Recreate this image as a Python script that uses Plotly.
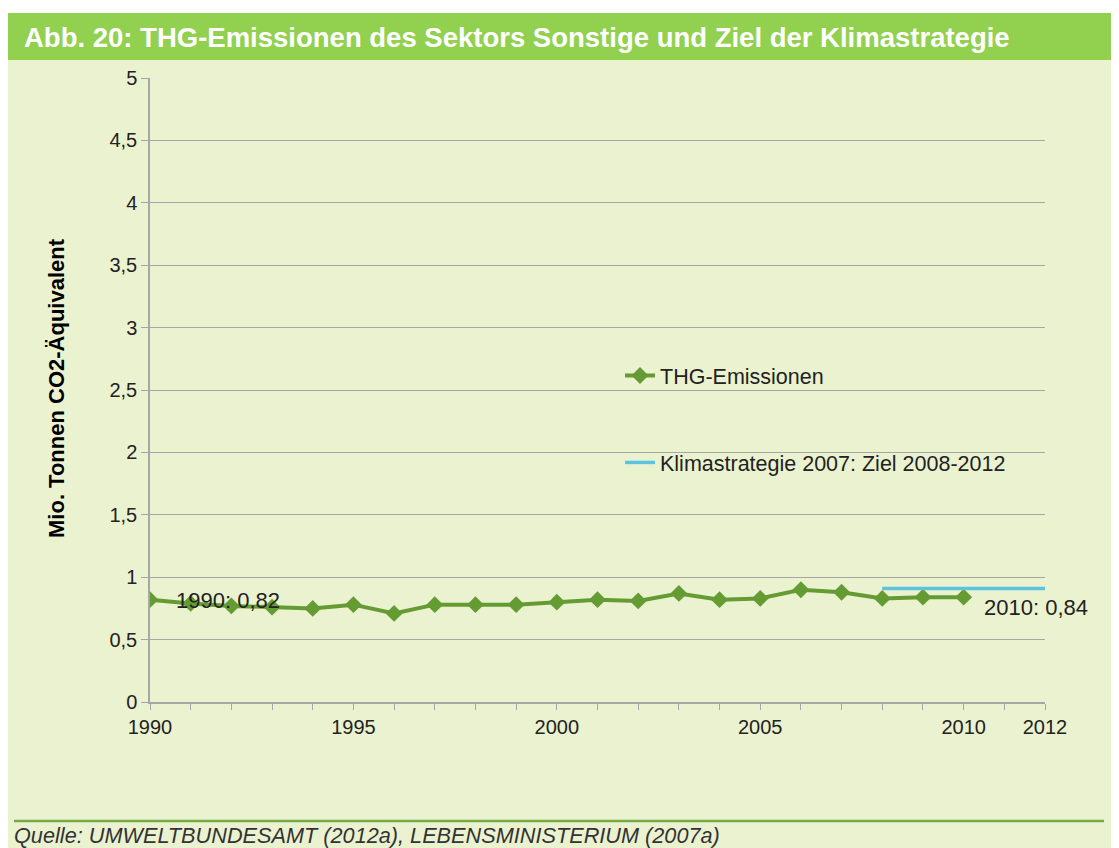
import plotly.graph_objects as go

years = list(range(1990, 2011))
emissions = [0.82, 0.79, 0.77, 0.76, 0.75, 0.78, 0.71, 0.78, 0.78, 0.78, 0.80,
             0.82, 0.81, 0.87, 0.82, 0.83, 0.90, 0.88, 0.83, 0.84, 0.84]
target_years = [2008, 2012]
target_values = [0.91, 0.91]
x_tick_vals = [1990, 1995, 2000, 2005, 2010, 2012]
y_tick_vals = [0, 0.5, 1, 1.5, 2, 2.5, 3, 3.5, 4, 4.5, 5]
y_tick_text = ["0", "0,5", "1", "1,5", "2", "2,5", "3", "3,5", "4", "4,5", "5"]

OFF = 8  # browser body margin
W, H = 1119 - OFF, 848 - OFF
# plot area in page pixels
PL, PR, PT, PB = 150, 1045, 78, 702
L, R, T, B = PL - OFF, PR - OFF, PT - OFF, PB - OFF


def px(xp):
    return (xp - PL) / (PR - PL)


def py(yp):
    return (PB - yp) / (PB - PT)


FONT = "Liberation Sans, Arial, sans-serif"

fig = go.Figure()
fig.add_trace(go.Scatter(
    x=years, y=emissions, mode="lines+markers", name="THG-Emissionen",
    legendgroup="a",
    line=dict(color="#659B33", width=4),
    marker=dict(symbol="diamond", size=13, color="#659B33"),
))
fig.add_trace(go.Scatter(
    x=target_years, y=target_values, mode="lines",
    name="Klimastrategie 2007: Ziel 2008-2012", legendgroup="b",
    line=dict(color="#5CC3E0", width=3.5),
))

shapes = [
    dict(type="rect", xref="paper", yref="paper", x0=px(8), x1=px(1130),
         y0=py(860), y1=py(60), fillcolor="#EBF2D0", line=dict(width=0), layer="below"),
    dict(type="rect", xref="paper", yref="paper", x0=px(8), x1=px(1130),
         y0=py(60), y1=py(13), fillcolor="#92D050", line=dict(width=0), layer="below"),
    dict(type="line", xref="paper", yref="paper", x0=px(14), x1=px(1104),
         y0=py(821), y1=py(821), line=dict(color="#76A844", width=2.5)),
]

annotations = [
    dict(text="<b>Abb. 20: THG-Emissionen des Sektors Sonstige und Ziel der Klimastrategie</b>",
         xref="paper", yref="paper", x=px(22), y=py(37), xanchor="left", yanchor="middle",
         showarrow=False, font=dict(family=FONT, size=27.5, color="white")),
    dict(text="<b>Mio. Tonnen CO2-Äquivalent</b>", xref="paper", yref="paper",
         x=px(56), y=py(388), textangle=-90, xanchor="center", yanchor="middle",
         showarrow=False, font=dict(family=FONT, size=22, color="black")),
    dict(text="1990: 0,82", x=1990.58, y=0.81, xanchor="left", yanchor="middle",
         showarrow=False, font=dict(family=FONT, size=22, color="#222222")),
    dict(text="2010: 0,84", x=2010.45, y=0.76, xanchor="left", yanchor="middle",
         showarrow=False, font=dict(family=FONT, size=22, color="#222222")),
    dict(text="<i>Quelle: UMWELTBUNDESAMT (2012a), LEBENSMINISTERIUM (2007a)</i>",
         xref="paper", yref="paper", x=px(12), y=py(835), xanchor="left", yanchor="middle",
         showarrow=False, font=dict(family=FONT, size=21.7, color="#333333")),
]

fig.update_layout(
    width=W, height=H,
    margin=dict(l=L, r=W - R, t=T, b=H - B, pad=0),
    paper_bgcolor="white", plot_bgcolor="rgba(0,0,0,0)",
    font=dict(family=FONT, size=20, color="black"),
    shapes=shapes, annotations=annotations,
    showlegend=True,
    legend=dict(x=px(620), y=py(355), xanchor="left", yanchor="top",
                bgcolor="rgba(0,0,0,0)", tracegroupgap=56,
                font=dict(family=FONT, size=21.5, color="#222222")),
    xaxis=dict(range=[1990, 2012], tickvals=x_tick_vals, showgrid=False,
               zeroline=False, showline=True, linecolor="#A6A6A6", linewidth=1.5,
               ticks="outside", ticklen=6, tickcolor="#A6A6A6",
               minor=dict(dtick=1, tick0=1990, ticks="outside", ticklen=6,
                          tickcolor="#A6A6A6", showgrid=False),
               tickfont=dict(family=FONT, size=20, color="#222222")),
    yaxis=dict(range=[0, 5], tickvals=y_tick_vals, ticktext=y_tick_text,
               showgrid=True, gridcolor="#A6A6A6", gridwidth=1, zeroline=False,
               showline=True, linecolor="#A6A6A6", linewidth=1.5,
               ticks="outside", ticklen=7, tickcolor="#A6A6A6",
               tickfont=dict(family=FONT, size=20, color="#222222")),
)

fig.write_html("out.html")
